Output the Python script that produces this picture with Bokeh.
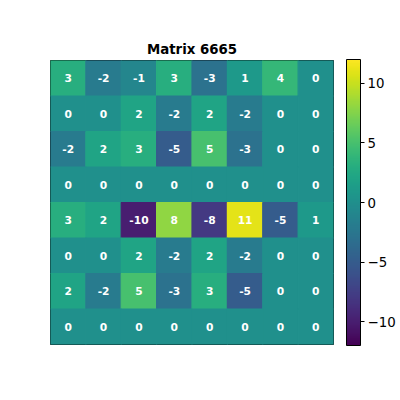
from bokeh.plotting import figure
from bokeh.models import ColumnDataSource, LinearColorMapper, ColorBar, FixedTicker, CustomJSTickFormatter
from bokeh.transform import transform
from bokeh.core.properties import value
from bokeh.embed import file_html
from bokeh.resources import INLINE
from bokeh.palettes import Viridis256

matrix = [
    [3, -2, -1, 3, -3, 1, 4, 0],
    [0, 0, 2, -2, 2, -2, 0, 0],
    [-2, 2, 3, -5, 5, -3, 0, 0],
    [0, 0, 0, 0, 0, 0, 0, 0],
    [3, 2, -10, 8, -8, 11, -5, 1],
    [0, 0, 2, -2, 2, -2, 0, 0],
    [2, -2, 5, -3, 3, -5, 0, 0],
    [0, 0, 0, 0, 0, 0, 0, 0],
]
vmin, vmax = -12, 12
cbar_ticks = [-10, -5, 0, 5, 10]

xs, ys, vals, labels = [], [], [], []
for r, row in enumerate(matrix):
    for c, v in enumerate(row):
        xs.append(c + 0.5)
        ys.append(r + 0.5)
        vals.append(v)
        labels.append(str(v))
src = ColumnDataSource(dict(x=xs, y=ys, v=vals, t=labels))

mapper = LinearColorMapper(palette=Viridis256, low=vmin, high=vmax)

p = figure(frame_width=283, frame_height=284, x_range=(0, 8), y_range=(8, 0),
           output_backend="svg", toolbar_location=None,
           min_border_left=50, min_border_top=60, min_border_bottom=40, min_border_right=10,
           title="Matrix 6665")
p.title.align = "center"
p.title.text_font = "DejaVu Sans"
p.title.text_font_size = "10pt"
p.title.text_font_style = "bold"
p.title.text_color = "black"
p.title.standoff = 8
p.xaxis.visible = False
p.yaxis.visible = False
p.grid.visible = False
p.outline_line_color = "black"
p.outline_line_width = 1
p.background_fill_color = "white"

p.rect(x="x", y="y", width=1, height=1, source=src,
       fill_color=transform("v", mapper), line_color=transform("v", mapper), line_width=1.2)
p.text(x="x", y="y", text="t", source=src, text_color="white",
       text_font=value("DejaVu Sans"), text_font_size="8pt", text_font_style="bold",
       text_align="center", text_baseline="middle")

cb = ColorBar(color_mapper=mapper, width=14, height=286, padding=0, margin=0,
              location=(13, -1),
              ticker=FixedTicker(ticks=cbar_ticks),
              formatter=CustomJSTickFormatter(code="return tick < 0 ? '\u2212' + Math.abs(tick) : String(tick);"),
              major_tick_in=0, major_tick_out=4, major_tick_line_color="black",
              minor_tick_line_color=None,
              major_label_text_font="DejaVu Sans", major_label_text_font_size="10pt",
              major_label_text_color="black",
              label_standoff=3,
              bar_line_color="black", bar_line_width=1,
              border_line_color=None, background_fill_color=None)
p.add_layout(cb, "right")

open("out.html", "w").write(file_html(p, INLINE))
